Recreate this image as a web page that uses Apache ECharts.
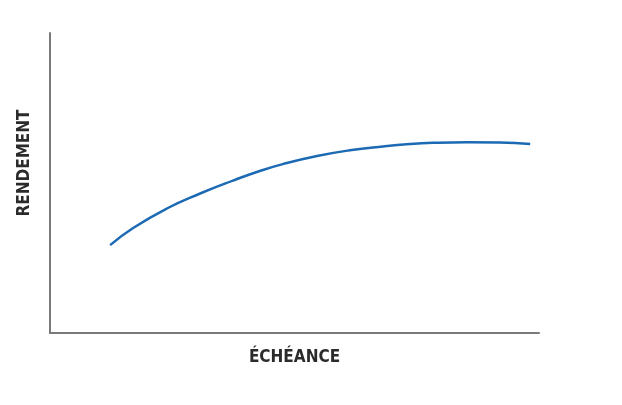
<!DOCTYPE html>
<html>
<head>
<meta charset="utf-8">
<script src="https://cdn.jsdelivr.net/npm/echarts@6/dist/echarts.min.js"></script>
<style>
  html, body { margin: 0; padding: 0; background: #fff; }
  #main { width: 622px; height: 405px; }
</style>
</head>
<body>
<div id="main"></div>
<script>
// maturity (x) and yield (y), arbitrary units
var echeance = [12.3, 17, 23.9, 30.7, 37.4, 42.9, 47.6, 54.6, 61.3, 68.1, 73.6, 78.3, 85.3, 92, 98.2];
var rendement = [29.3, 35, 41.5, 46.5, 50.8, 54, 56.3, 59, 60.9, 62.2, 63, 63.4, 63.6, 63.5, 63];

var chart = echarts.init(document.getElementById("main"));
var axisFont = {
  fontFamily: "DejaVu Sans Condensed",
  fontWeight: "bold",
  fontSize: 17,
  color: "#2b2b2b"
};
chart.setOption({
  animation: false,
  grid: { left: 50, right: 83, top: 33, bottom: 72 },
  xAxis: {
    type: "value", min: 0, max: 100,
    name: "ÉCHÉANCE", nameLocation: "middle", nameGap: 16,
    nameTextStyle: axisFont,
    axisLine: { lineStyle: { color: "#7a7a7a", width: 2 } },
    axisTick: { show: false }, axisLabel: { show: false }, splitLine: { show: false }
  },
  yAxis: {
    type: "value", min: 0, max: 100,
    name: "RENDEMENT", nameLocation: "middle", nameGap: 17, nameRotate: 90,
    nameTextStyle: Object.assign({ padding: [0, 0, 0, 40] }, axisFont),
    axisLine: { show: true, lineStyle: { color: "#7a7a7a", width: 2 } },
    axisTick: { show: false }, axisLabel: { show: false }, splitLine: { show: false }
  },
  series: [{
    type: "line",
    smooth: true,
    symbol: "none",
    data: echeance.map(function (x, i) { return [x, rendement[i]]; }),
    lineStyle: { color: "#1b6ab3", width: 2.5 }
  }]
});
</script>
</body>
</html>
